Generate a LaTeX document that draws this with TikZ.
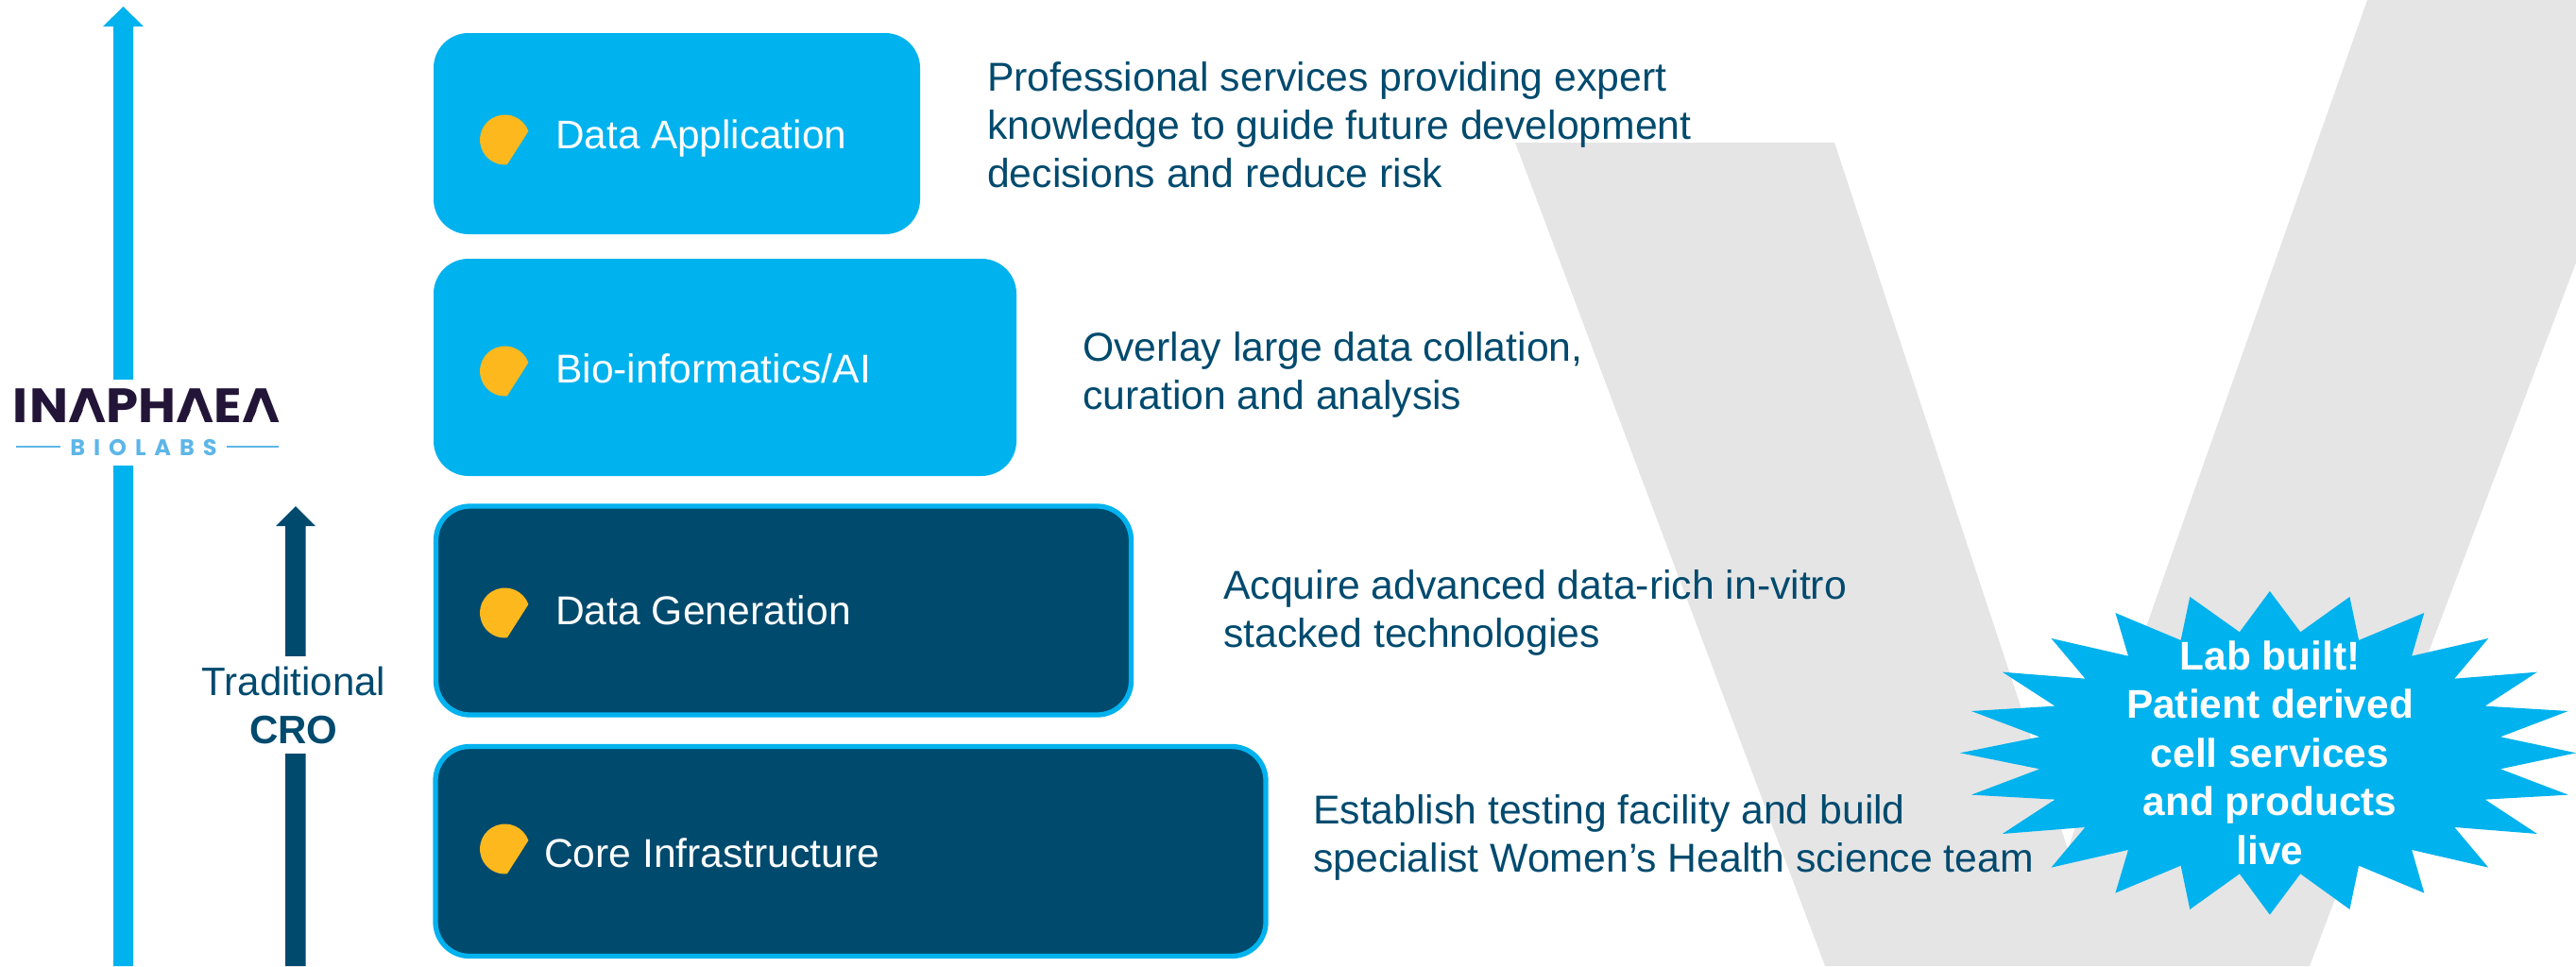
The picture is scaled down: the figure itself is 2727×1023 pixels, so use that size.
\documentclass[tikz,border=0pt]{standalone}
\usepackage{graphicx}
\usepackage{fontspec}
\setmainfont{Liberation Sans}
\newfontfamily\logofont{Poppins}
\definecolor{skyb}{HTML}{00B2EE}
\definecolor{navy}{HTML}{004A6E}
\definecolor{sun}{HTML}{FDB81E}
\definecolor{vgrey}{HTML}{E5E5E5}
\definecolor{logodark}{HTML}{231537}
\definecolor{logolight}{HTML}{5DB6E8}
\newdimen\lAw
\newcommand\logoA{\setbox0=\hbox{A}\lAw=\wd0 \copy0\tikz[overlay,x=1pt,y=1pt,baseline=0pt]{\fill[white] (-0.5\lAw,25)--(-0.25\lAw,0)--(-0.75\lAw,0)--cycle;}}
\tikzset{
  upper/.style={fill=skyb,rounded corners=37pt,inner sep=0pt,outer sep=0pt},
  lower/.style={fill=navy,draw=skyb,line width=5.3pt,rounded corners=36pt,inner sep=0pt,outer sep=0pt},
  lab/.style={anchor=base west,text=white,inner sep=0pt,font=\fontsize{42.6}{50}\selectfont},
  desc/.style={anchor=north west,text=navy,inner sep=0pt,align=left,font=\fontsize{42.7}{51}\selectfont},
  petal/.pic={\fill[sun] (-20:26.5) arc[start angle=-20,end angle=-275,radius=26.5] -- cycle;}
}
\begin{document}
\begin{tikzpicture}[x=1pt,y=-1pt]
\useasboundingbox (0,0) rectangle (2727,1023);
% V watermark
\fill[vgrey] (1604,151)--(1942,151)--(2189,899)--(2506,0)--(2727,0)--(2727,278)--(2445,1023)--(1932,1023)--cycle;
% arrows
\fill[skyb] (120,1023)--(120,28)--(109,28)--(130.5,7)--(152,28)--(141,28)--(141,1023)--cycle;
\fill[navy] (302,1023)--(302,557)--(292,557)--(313,536)--(334,557)--(323.5,557)--(323.5,1023)--cycle;
% logo gap and label gap
\node[fill=white,minimum width=290pt,minimum height=91pt,inner sep=0pt] (logobg) at (155,447.5) {};
\node[fill=white,minimum width=200pt,minimum height=103pt,inner sep=0pt,text=navy,align=center,font=\fontsize{42}{51}\selectfont] (cro) at (311,746.5) {Traditional\\\textbf{CRO}};
% logo
\node[anchor=base,inner sep=0pt,text=logodark,font=\logofont\bfseries\fontsize{51}{51}\selectfont] (logo) at (155,447) {\scalebox{1.07}[1]{I\kern2pt N\kern0pt \logoA\kern0pt P\kern0pt H\kern0pt \logoA\kern0pt E\kern0pt \logoA}};
\node[anchor=base,inner sep=0pt,text=logolight,font=\logofont\bfseries\fontsize{24}{24}\selectfont] (biolabs) at (152,482) {B\kern9pt I\kern9pt O\kern9pt L\kern9pt A\kern9pt B\kern9pt S};
\coordinate (ll1) at (17,473); \coordinate (ll2) at (64,473);
\coordinate (lr1) at (240,473); \coordinate (lr2) at (295,473);
\draw[logolight,line width=1.2pt] (ll1)--(ll2) (lr1)--(lr2);
% boxes
\node[upper,minimum width=515pt,minimum height=213pt] (b1) at (716.5,141.5) {};
\node[upper,minimum width=617pt,minimum height=230pt] (b2) at (767.5,389) {};
\node[lower,minimum width=736pt,minimum height=221pt] (b3) at (829.5,646.5) {};
\node[lower,minimum width=879pt,minimum height=222pt] (b4) at (900.5,901.5) {};
% bullets
\pic at (534.5,148) {petal};
\pic at (534.5,393) {petal};
\pic at (534.5,649) {petal};
\pic at (534.5,899) {petal};
% labels
\node[lab,font=\fontsize{42.3}{50}\selectfont] (t1) at (588,157) {Data Application};
\node[lab] (t2) at (588,405) {Bio-informatics/AI};
\node[lab] (t3) at (588,661) {Data Generation};
\node[lab] (t4) at (576,918) {Core Infrastructure};
% descriptions
\node[desc] (d1) at (1045,65) {Professional services providing expert\\knowledge to guide future development\\decisions and reduce risk};
\node[desc] (d2) at (1146,351) {Overlay large data collation,\\curation and analysis};
\node[desc] (d3) at (1295,603) {Acquire advanced data-rich in-vitro\\stacked technologies};
\node[desc] (d4) at (1390,841) {Establish testing facility and build\\specialist Women’s Health science team};
% star
\begin{scope}[shift={(2040,600)},x=0.4382pt,y=-0.3333pt]
\fill[skyb] (828,78)--(902,208)--(1021,96)--(1043,234)--(1201,147)--(1171,284)--(1356,228)--(1274,356)--(1474,335)--(1348,443)--(1549,459)--(1385,541)--(1568,592)--(1385,643)--(1549,725)--(1348,740)--(1474,849)--(1274,828)--(1356,956)--(1171,900)--(1201,1037)--(1043,950)--(1021,1089)--(902,976)--(828,1106)--(755,976)--(635,1089)--(613,950)--(455,1037)--(486,900)--(300,956)--(382,828)--(182,849)--(309,740)--(107,725)--(272,643)--(80,592)--(272,541)--(107,459)--(309,443)--(182,335)--(382,356)--(300,228)--(486,284)--(455,147)--(613,234)--(635,96)--(755,208)--cycle;
\end{scope}
\node[text=white,align=center,inner sep=0pt,font=\bfseries\fontsize{42.4}{51.5}\selectfont] (star) at (2403,797) {Lab built!\\Patient derived\\cell services\\and products\\live};
\end{tikzpicture}
\end{document}
